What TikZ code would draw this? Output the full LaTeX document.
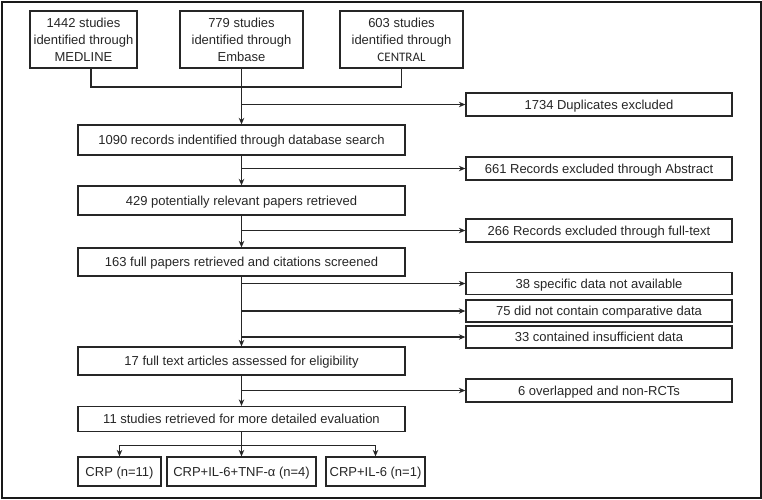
\documentclass[tikz,border=0pt]{standalone}
\usepackage{fontspec}
\setmainfont{Liberation Sans}
\newfontfamily\calibrifont{Carlito}
\usetikzlibrary{arrows.meta}
\definecolor{inkgray}{HTML}{262626}

\begin{document}
\begin{tikzpicture}[x=1pt,y=-1pt,>={Stealth[length=6.5pt,width=5.5pt]},color=inkgray,line width=1.2pt,
	every node/.style={font=\fontsize{13}{17}\selectfont,text=inkgray},
	box/.style={draw=inkgray,line width=1.3pt,inner sep=0pt,minimum height=29pt,text height=10.5pt,text depth=1.5pt},
	mainbox/.style={box,minimum width=327pt},
	sidebox/.style={box,minimum width=266pt,minimum height=22pt},
	srcbox/.style={box,minimum height=57pt,align=center,text height=,text depth=},
	node distance=100pt]

\useasboundingbox (0,0) rectangle (762,499);
\draw[line width=2pt,color=black!90] (1.5,1.5) rectangle (760.5,497.5);

\node[srcbox,minimum width=107pt]   (med)  at (83.5,39.5)   {1442 studies\\identified through\\MEDLINE};
\node[srcbox,minimum width=123pt]   (emb)  at (241.5,39.5)  {779 studies\\identified through\\Embase};
\node[srcbox,minimum width=123pt]   (cen)[right of=emb,node distance=160pt]   {603 studies\\identified through\\{\calibrifont CENTRAL}};

\node[mainbox,minimum height=30pt]  (rec)[below of=emb,node distance=100.5pt]  {1090 records indentified through database search};
\node[mainbox]  (pot)[below of=rec,node distance=60.5pt]   {429 potentially relevant papers retrieved};
\node[mainbox,minimum height=28pt]  (full)[below of=pot,node distance=61.5pt]  {163 full papers retrieved and citations screened};
\node[mainbox,minimum height=28pt]  (elig)[below of=full,node distance=99pt]   {17 full text articles assessed for eligibility};
\node[mainbox,minimum height=25pt]  (det)[below of=elig,node distance=58pt]    {11 studies retrieved for more detailed evaluation};

\node[box,minimum width=149pt]  (tnf)[below of=det,node distance=52.5pt]   {CRP+IL-6+TNF-α (n=4)};
\node[box,minimum width=83pt]   (crp)[left of=tnf,node distance=122pt]     {CRP (n=11)};
\node[box,minimum width=99pt]   (il6)[right of=tnf,node distance=134pt]    {CRP+IL-6 (n=1)};

\node[sidebox,minimum height=23pt]  (dup)  at (599,104.5)  {1734 Duplicates excluded};
\node[sidebox,minimum height=23pt]  (abs)  at (599,168.5)  {661 Records excluded through Abstract};
\node[sidebox,minimum height=23pt]  (ft)   at (599,230.5)  {266 Records excluded through full-text};
\node[sidebox]  (nd)   at (599,283.5)  {38 specific data not available};
\node[sidebox]  (nc)   at (599,311)    {75 did not contain comparative data};
\node[sidebox]  (ins)  at (599,337)    {33 contained insufficient data};
\node[sidebox,minimum height=23pt]  (ovl)  at (599,390.5)  {6 overlapped and non-RCTs};

\coordinate (medout) at ([xshift=7.5pt]med.south);
\coordinate (jn) at (241.5,87);
\coordinate (split) at ([yshift=-13pt]det.south);

\draw (medout) |- (jn) -| (cen.south);
\draw (det) -- (split);
\draw (split -| crp) -- (split -| il6);

	\path[->] (emb)  edge  (rec)
						(emb |- dup)  edge  (dup)
						(rec)  edge  (pot)
						(rec |- abs)  edge  (abs)
						(pot)  edge  (full)
						(pot |- ft)  edge  (ft)
						(full)  edge  (elig)
						(full |- nd)  edge  (nd)
						(full |- nc)  edge  (nc)
						(full |- ins)  edge  (ins)
						(elig)  edge  (det)
						(elig |- ovl)  edge  (ovl)

						(split -| crp)  edge  (crp)
						(split)  edge  (tnf)
						(split -| il6)  edge  (il6);

\end{tikzpicture}
\end{document}
